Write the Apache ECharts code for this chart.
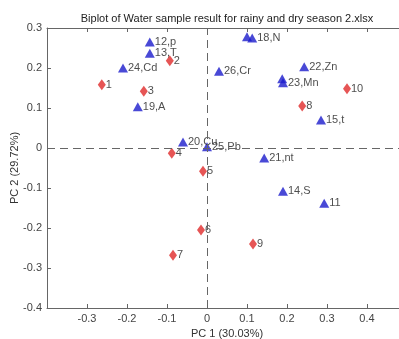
<!DOCTYPE html>
<html><head><meta charset="utf-8">
<script src="https://cdn.jsdelivr.net/npm/echarts@6/dist/echarts.min.js"></script>
<style>html,body{margin:0;padding:0;background:#fff}#c{width:399px;height:339px}</style>
</head><body><div id="c"></div>
<script>
const titleText = 'Biplot of Water sample result for rainy and dry season 2.xlsx';
const xName = 'PC 1 (30.03%)';
const yName = 'PC 2 (29.72%)';
const sampleLabels = ['1','2','3','4','5','6','7','8','9','10'];
const sampleX = [-0.263, -0.093, -0.158, -0.088, -0.010, -0.015, -0.085, 0.238, 0.115, 0.350];
const sampleY = [0.158, 0.218, 0.142, -0.013, -0.058, -0.205, -0.268, 0.105, -0.240, 0.148];
const varLabels = ['11','12,p','13,T','14,S','15,t','','18,N','19,A','20,Cu','21,nt','22,Zn','','23,Mn','24,Cd','25,Pb','26,Cr'];
const varX = [0.293, -0.143, -0.143, 0.190, 0.285, 0.100, 0.113, -0.173, -0.060, 0.143, 0.243, 0.188, 0.190, -0.210, 0.000, 0.030];
const varY = [-0.138, 0.265, 0.237, -0.108, 0.070, 0.278, 0.275, 0.103, 0.015, -0.025, 0.203, 0.173, 0.163, 0.200, 0.003, 0.192];

const fmt = v => { const r = Math.round(v*10)/10; return r === 0 ? '0' : String(r); };
const chart = echarts.init(document.getElementById('c'));
const lab = {show:true, position:'right', distance:0, color:'#222', fontSize:11, fontFamily:'Liberation Sans, Arial', formatter: p => p.data[2]};
chart.setOption({
  animation:false,
  backgroundColor:'#fff',
  title:{text:titleText, left:222, top:8, textAlign:'center', textStyle:{fontSize:11, fontWeight:'normal', color:'#222', fontFamily:'Liberation Sans, Arial'}},
  grid:{left:47, right:-8, top:28, bottom:31, containLabel:false, outerBoundsMode:'none'},
  xAxis:[{type:'value', min:-0.4, max:0.5, interval:0.1, position:'bottom',
    name:xName, nameLocation:'middle', nameGap:13,
    nameTextStyle:{fontSize:11, color:'#333', fontFamily:'Liberation Sans, Arial'},
    axisLine:{show:true, onZero:false, lineStyle:{color:'#666', width:1}},
    axisTick:{show:true, inside:true, length:4, lineStyle:{color:'#666'}},
    axisLabel:{fontSize:11, color:'#444', margin:5, fontFamily:'Liberation Sans, Arial',
      formatter: v => (Math.abs(v+0.4)<1e-6 || Math.abs(v-0.5)<1e-6) ? '' : fmt(v)},
    splitLine:{show:false}},
   {type:'value', min:-0.4, max:0.5, interval:0.1, position:'top',
    axisLine:{show:true, onZero:false, lineStyle:{color:'#666', width:1}},
    axisTick:{show:true, inside:true, length:4, lineStyle:{color:'#666'}},
    axisLabel:{show:false}, splitLine:{show:false}}],
  yAxis:[{type:'value', min:-0.4, max:0.3, interval:0.1, position:'left',
    name:yName, nameLocation:'middle', nameGap:27, nameRotate:90, nameMoveOverlap:false,
    nameTextStyle:{fontSize:11, color:'#333', fontFamily:'Liberation Sans, Arial'},
    axisLine:{show:true, onZero:false, lineStyle:{color:'#666', width:1}},
    axisTick:{show:true, inside:true, length:4, lineStyle:{color:'#666'}},
    axisLabel:{fontSize:11, color:'#444', margin:5, fontFamily:'Liberation Sans, Arial', formatter: fmt},
    splitLine:{show:false}},
   {type:'value', min:-0.4, max:0.3, interval:0.1, position:'right',
    axisLine:{show:true, onZero:false, lineStyle:{color:'#666', width:1}},
    axisTick:{show:true, inside:true, length:4, lineStyle:{color:'#666'}},
    axisLabel:{show:false}, splitLine:{show:false}}],
  series:[
    {type:'scatter', xAxisIndex:0, yAxisIndex:0, symbol:'diamond', symbolSize:[8,11],
     itemStyle:{color:'#e02a2a'}, label:lab,
     data: sampleX.map((x,i)=>[x, sampleY[i], sampleLabels[i]]),
     markLine:{silent:true, symbol:'none', label:{show:false},
       lineStyle:{color:'#666', type:[8,5], width:1},
       data:[{xAxis:0},{yAxis:0}]}},
    {type:'scatter', xAxisIndex:0, yAxisIndex:0, symbol:'triangle', symbolSize:[10,9],
     itemStyle:{color:'#1c1ccc'}, label:lab,
     data: varX.map((x,i)=>[x, varY[i], varLabels[i]])}
  ]
});
</script></body></html>
